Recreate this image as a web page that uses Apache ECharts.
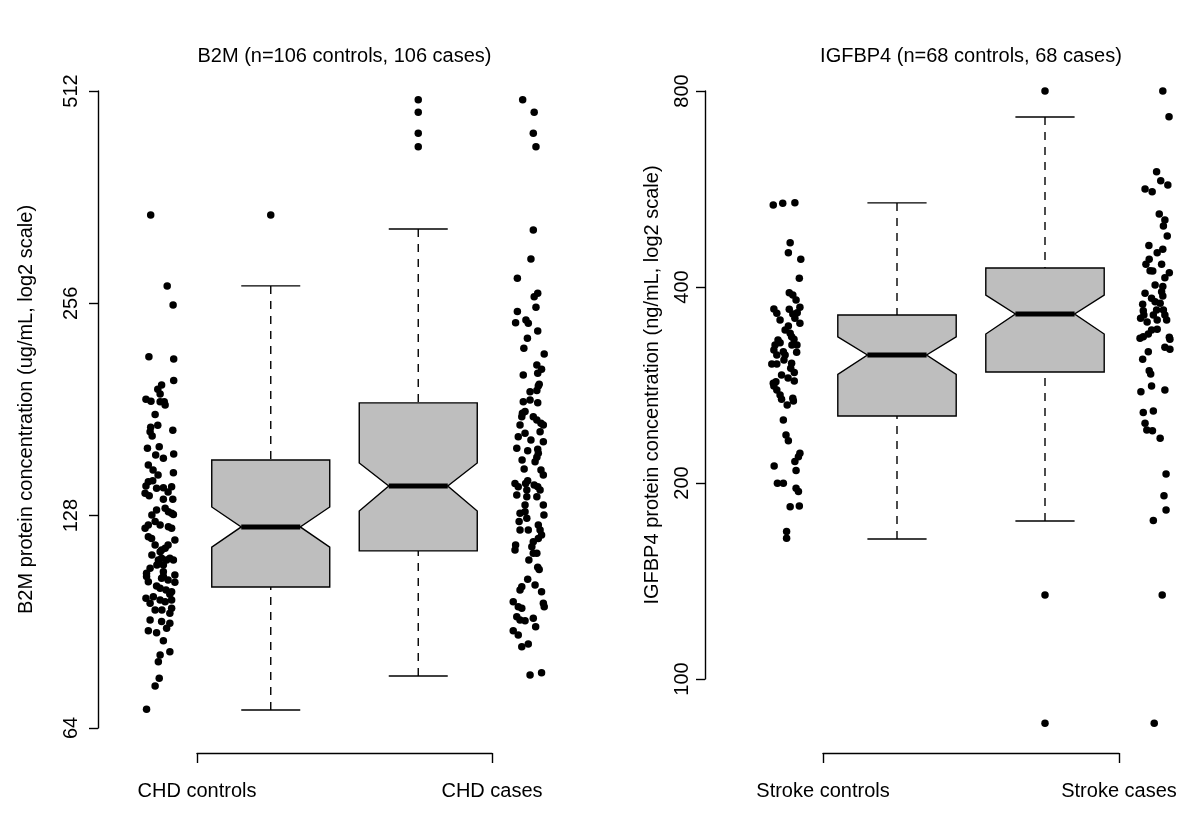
<!DOCTYPE html>
<html><head><meta charset="utf-8">
<script src="https://cdn.jsdelivr.net/npm/echarts@6/dist/echarts.min.js"></script>
<style>html,body{margin:0;padding:0;background:#fff}#chart{width:1200px;height:819px}</style>
</head><body><div id="chart"></div>
<script>
// ---------- DATA (values in log2 units of concentration) ----------
const b2mTitle = 'B2M (n=106 controls, 106 cases)';
const igfTitle = 'IGFBP4 (n=68 controls, 68 cases)';
const b2mYName = 'B2M protein concentration (ug/mL, log2 scale)';
const igfYName = 'IGFBP4 protein concentration (ng/mL, log2 scale)';
const b2mGroups = ['CHD controls', 'CHD cases'];
const igfGroups = ['Stroke controls', 'Stroke cases'];
const b2mTicks = [64, 128, 256, 512];
const igfTicks = [100, 200, 400, 800];
const boxPositions = [1.25, 1.75];

// box stats: [whiskerLo, Q1, notchLo, median, notchHi, Q3, whiskerHi] (log2)
const b2mControlsBox = [6.085, 6.664, 6.852, 6.947, 7.041, 7.262, 8.082];
const b2mCasesBox    = [6.245, 6.834, 7.022, 7.140, 7.248, 7.531, 8.350];
const igfControlsBox = [7.358, 7.986, 8.198, 8.297, 8.389, 8.501, 9.073];
const igfCasesBox    = [7.450, 8.210, 8.404, 8.506, 8.603, 8.741, 9.511];

const b2mControlsOutliers = [8.416];
const b2mCasesOutliers = [8.959, 8.900, 8.801, 8.738];
const igfControlsOutliers = [];
const igfCasesOutliers = [9.644, 7.073, 6.418];

// jittered strips: x position (axis units) and log2 value
const b2mControlsX = [0.843,0.899,0.919,0.837,0.921,0.921,0.880,0.867,0.875,0.827,
0.844,0.875,0.889,0.858,0.843,0.867,0.841,0.848,0.918,0.832,
0.872,0.860,0.886,0.921,0.835,0.920,0.835,0.850,0.827,0.824,
0.838,0.863,0.886,0.914,0.886,0.918,0.863,0.892,0.903,0.914,
0.920,0.858,0.835,0.824,0.875,0.903,0.914,0.835,0.846,0.880,
0.875,0.892,0.869,0.880,0.897,0.908,0.920,0.886,0.841,0.829,
0.829,0.835,0.886,0.886,0.880,0.925,0.863,0.875,0.895,0.914,
0.908,0.827,0.852,0.875,0.892,0.914,0.841,0.914,0.908,0.841,
0.880,0.908,0.897,0.835,0.863,0.886,0.908,0.875,0.869,0.872,
0.858,0.829,0.892,0.851,0.868,0.902,0.847,0.925,0.858,0.902,
0.847,0.864,0.902,0.858,0.881,0.925];
const b2mControlsLog2 = [8.416,8.082,7.992,7.749,7.738,7.636,7.615,7.595,7.573,7.548,
7.539,7.537,7.537,7.477,7.416,7.426,7.395,7.375,7.402,7.317,
7.325,7.286,7.270,7.290,7.239,7.202,7.160,7.165,7.140,7.105,
7.094,7.129,7.132,7.136,7.077,7.077,7.027,7.035,7.019,7.011,
7.006,6.972,6.956,6.941,6.956,6.948,6.941,6.901,6.893,6.838,
6.830,6.846,6.791,6.799,6.791,6.799,6.791,6.768,6.752,6.729,
6.713,6.689,6.736,6.713,6.705,6.686,6.669,6.658,6.650,6.642,
6.630,6.611,6.618,6.603,6.595,6.603,6.587,6.564,6.540,6.509,
6.501,6.493,6.470,6.458,6.449,6.411,6.359,6.344,6.312,6.234,
6.198,6.088,7.521,7.215,7.192,7.111,7.003,6.885,6.862,6.862,
6.815,6.768,6.697,6.556,6.556,6.721];

const b2mCasesX = [2.104,2.143,2.140,2.149,2.140,2.132,2.086,2.143,2.155,2.149,
2.086,2.080,2.115,2.123,2.155,2.120,2.108,2.177,2.152,2.168,
2.155,2.106,2.160,2.129,2.157,2.152,2.106,2.155,2.103,2.112,
2.101,2.140,2.152,2.166,2.174,2.089,2.112,2.163,2.174,2.084,
2.121,2.155,2.157,2.152,2.146,2.109,2.166,2.174,2.078,2.089,
2.084,2.114,2.121,2.118,2.143,2.155,2.163,2.152,2.118,2.112,
2.174,2.095,2.118,2.092,2.112,2.095,2.123,2.157,2.163,2.168,
2.157,2.080,2.078,2.140,2.135,2.152,2.140,2.155,2.160,2.121,
2.101,2.095,2.146,2.168,2.174,2.177,2.072,2.089,2.101,2.084,
2.095,2.112,2.140,2.148,2.072,2.089,2.101,2.123,2.129,2.168,
2.129,2.095,2.132,2.102,2.176,2.125];
const b2mCasesLog2 = [8.959,8.900,8.801,8.738,8.345,8.209,8.118,8.031,8.047,7.981,
7.961,7.909,7.922,7.906,7.870,7.835,7.788,7.761,7.710,7.689,
7.671,7.662,7.619,7.584,7.611,7.589,7.537,7.532,7.482,7.490,
7.466,7.466,7.451,7.435,7.427,7.372,7.388,7.395,7.348,7.317,
7.306,7.313,7.294,7.275,7.254,7.220,7.215,7.192,7.152,7.136,
7.097,7.152,7.165,7.121,7.144,7.136,7.121,7.089,7.089,7.050,
7.050,7.011,6.988,6.972,7.019,6.933,6.933,6.956,6.933,6.909,
6.893,6.862,6.838,6.877,6.854,6.823,6.823,6.757,6.747,6.700,
6.665,6.650,6.673,6.642,6.587,6.571,6.595,6.571,6.564,6.524,
6.509,6.505,6.517,6.477,6.458,6.438,6.383,6.396,6.250,6.260,
7.545,7.427,7.356,7.262,7.003,6.791];

const igfControlsX = [0.832,0.864,0.905,0.889,0.883,0.925,0.920,0.886,0.898,0.909,
0.922,0.834,0.844,0.886,0.898,0.913,0.905,0.922,0.883,0.889,
0.894,0.902,0.838,0.855,0.834,0.844,0.866,0.872,0.911,0.827,
0.844,0.894,0.891,0.903,0.860,0.832,0.841,0.834,0.903,0.844,
0.860,0.898,0.900,0.879,0.866,0.875,0.883,0.922,0.917,0.905,
0.835,0.909,0.846,0.866,0.909,0.917,0.889,0.920,0.877,0.877,
0.855,0.872,0.848,0.895,0.868,0.882,0.855,0.912];
const igfControlsLog2 = [9.062,9.071,9.074,8.870,8.819,8.785,8.688,8.615,8.603,8.578,
8.540,8.532,8.510,8.530,8.506,8.513,8.484,8.459,8.445,8.408,
8.390,8.377,8.348,8.360,8.323,8.297,8.314,8.297,8.311,8.251,
8.251,8.255,8.229,8.207,8.195,8.153,8.161,8.139,8.164,8.118,
8.071,8.076,8.062,8.042,7.965,7.889,7.860,7.796,7.778,7.753,
7.731,7.707,7.642,7.642,7.617,7.600,7.523,7.527,7.396,7.362,
8.476,8.425,8.374,8.348,8.272,8.180,8.093,8.348];

const igfCasesX = [2.148,2.169,2.127,2.141,2.165,2.088,2.112,2.136,2.155,2.150,
2.163,2.101,2.129,2.148,2.102,2.091,2.144,2.170,2.155,2.105,
2.114,2.148,2.144,2.148,2.088,2.110,2.080,2.122,2.139,2.150,
2.155,2.161,2.082,2.073,2.084,2.116,2.129,2.127,2.110,2.129,
2.082,2.099,2.170,2.071,2.172,2.155,2.172,2.099,2.080,2.102,
2.107,2.110,2.074,2.155,2.082,2.116,2.088,2.094,2.113,2.139,
2.159,2.152,2.159,2.116,2.146,2.119,2.122,2.095];
const igfCasesLog2 = [9.644,9.513,9.232,9.186,9.164,9.144,9.130,9.016,8.986,8.955,
8.904,8.855,8.819,8.836,8.785,8.760,8.760,8.717,8.691,8.727,
8.726,8.646,8.620,8.598,8.612,8.586,8.556,8.569,8.561,8.527,
8.501,8.476,8.523,8.484,8.501,8.501,8.476,8.527,8.425,8.428,
8.390,8.404,8.387,8.382,8.377,8.336,8.326,8.314,8.275,8.217,
8.200,8.139,8.110,8.118,8.003,8.011,7.949,7.914,7.911,7.872,
7.690,7.579,7.506,7.452,7.073,6.418,8.654,8.465];

// ---------- RENDER ----------
const FONT = 'Liberation Sans, Arial, Helvetica, sans-serif';
const BOX_HALF = 0.2;
const LW = 1.4;

function boxRenderItem(params, api) {
  const x = api.value(0);
  const wl = api.value(1), q1 = api.value(2), nl = api.value(3), md = api.value(4),
        nh = api.value(5), q3 = api.value(6), wh = api.value(7);
  const hw = api.size([BOX_HALF, 0])[0];
  const cx = api.coord([x, md])[0];
  const y = v => api.coord([x, v])[1];
  const poly = [[cx - hw, y(q1)], [cx - hw, y(nl)], [cx - hw / 2, y(md)], [cx - hw, y(nh)], [cx - hw, y(q3)],
                [cx + hw, y(q3)], [cx + hw, y(nh)], [cx + hw / 2, y(md)], [cx + hw, y(nl)], [cx + hw, y(q1)]];
  const solid = { stroke: '#000', lineWidth: LW };
  const dashed = { stroke: '#000', lineWidth: LW, lineDash: [8, 7] };
  return { type: 'group', children: [
    { type: 'line', shape: { x1: cx, y1: y(wh), x2: cx, y2: y(q3) }, style: dashed },
    { type: 'line', shape: { x1: cx, y1: y(wl), x2: cx, y2: y(q1) }, style: dashed },
    { type: 'line', shape: { x1: cx - hw / 2, y1: y(wh), x2: cx + hw / 2, y2: y(wh) }, style: solid },
    { type: 'line', shape: { x1: cx - hw / 2, y1: y(wl), x2: cx + hw / 2, y2: y(wl) }, style: solid },
    { type: 'polygon', shape: { points: poly }, style: { fill: '#bebebe', stroke: '#000', lineWidth: LW } },
    { type: 'line', shape: { x1: cx - hw / 2, y1: y(md), x2: cx + hw / 2, y2: y(md) }, style: { stroke: '#000', lineWidth: 5 } }
  ]};
}

const zip = (xs, ys) => xs.map((x, i) => [x, ys[i]]);
const outl = (pos, vals) => vals.map(v => [pos, v]);
const txt = { fontFamily: FONT, fontSize: 20, color: '#000' };
const axisLineStyle = { color: '#000', width: LW };

function xAxisFor(gi, groups, offset) {
  return {
    gridIndex: gi, type: 'value', min: 1, max: 2, interval: 1, offset: offset,
    axisLine: { show: true, lineStyle: axisLineStyle },
    axisTick: { show: true, length: 10, lineStyle: axisLineStyle },
    axisLabel: Object.assign({ margin: 28, showMinLabel: true, showMaxLabel: true,
      formatter: v => groups[Math.round(v) - 1] }, txt),
    splitLine: { show: false }
  };
}
function yAxisFor(gi, ticks, name, offset, nameGap, labelMargin) {
  const tv = ticks.map(t => Math.log2(t));
  return {
    gridIndex: gi, type: 'value', min: tv[0], max: tv[tv.length - 1], offset: offset,
    name: name, nameLocation: 'middle', nameGap: nameGap, nameTextStyle: txt,
    axisLine: { show: true, lineStyle: axisLineStyle },
    axisTick: { show: true, length: 9, lineStyle: axisLineStyle, customValues: tv },
    axisLabel: Object.assign({ rotate: 90, margin: labelMargin, customValues: tv,
      formatter: v => String(Math.round(Math.pow(2, v))) }, txt),
    splitLine: { show: false }
  };
}

const dotStyle = { color: '#000', opacity: 1 };
const scatter = (xi, data) => ({ type: 'scatter', xAxisIndex: xi, yAxisIndex: xi, data: data,
  symbolSize: 7.5, itemStyle: dotStyle, clip: false, silent: true, z: 5 });

const option = {
  animation: false,
  backgroundColor: '#fff',
  title: [
    { text: b2mTitle, left: 344.5, top: 46, textAlign: 'center', padding: 0, textStyle: Object.assign({ fontWeight: 'normal' }, txt) },
    { text: igfTitle, left: 971, top: 46, textAlign: 'center', padding: 0, textStyle: Object.assign({ fontWeight: 'normal' }, txt) }
  ],
  grid: [
    { left: 197, width: 295, top: 91, height: 637, outerBoundsMode: 'none' },
    { left: 823, width: 296, top: 91, height: 588, outerBoundsMode: 'none' }
  ],
  xAxis: [xAxisFor(0, b2mGroups, 25), xAxisFor(1, igfGroups, 74)],
  yAxis: [yAxisFor(0, b2mTicks, b2mYName, 99, 62, 17), yAxisFor(1, igfTicks, igfYName, 118, 43, 13)],
  series: [
    { type: 'custom', xAxisIndex: 0, yAxisIndex: 0, renderItem: boxRenderItem, clip: false, silent: true,
      data: [[boxPositions[0]].concat(b2mControlsBox), [boxPositions[1]].concat(b2mCasesBox)] },
    { type: 'custom', xAxisIndex: 1, yAxisIndex: 1, renderItem: boxRenderItem, clip: false, silent: true,
      data: [[boxPositions[0]].concat(igfControlsBox), [boxPositions[1]].concat(igfCasesBox)] },
    scatter(0, zip(b2mControlsX, b2mControlsLog2)),
    scatter(0, zip(b2mCasesX, b2mCasesLog2)),
    scatter(0, outl(boxPositions[0], b2mControlsOutliers).concat(outl(boxPositions[1], b2mCasesOutliers))),
    scatter(1, zip(igfControlsX, igfControlsLog2)),
    scatter(1, zip(igfCasesX, igfCasesLog2)),
    scatter(1, outl(boxPositions[0], igfControlsOutliers).concat(outl(boxPositions[1], igfCasesOutliers)))
  ]
};
const chart = echarts.init(document.getElementById('chart'), null, { renderer: 'canvas' });
chart.setOption(option);
</script></body></html>
